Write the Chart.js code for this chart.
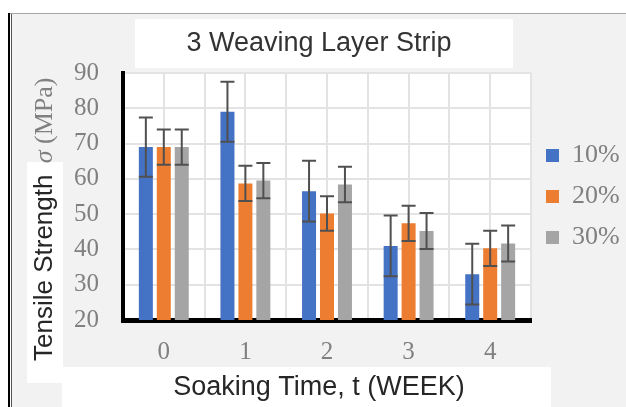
<!DOCTYPE html>
<html>
<head>
<meta charset="utf-8">
<script src="https://cdn.jsdelivr.net/npm/chart.js@4"></script>
<style>
  html, body { margin: 0; padding: 0; background: #fff; }
  #wrap { width: 626px; height: 407px; }
</style>
</head>
<body>
<div id="wrap"><canvas id="chart" width="626" height="407"></canvas></div>
<script>
const weeks = ['0', '1', '2', '3', '4'];
const seriesNames = ['10%', '20%', '30%'];
const tensile10 = [69, 79, 56.5, 41, 33];
const tensile20 = [69, 58.7, 50.2, 47.4, 40.3];
const tensile30 = [69, 59.5, 58.4, 45.2, 41.7];
const err10 = [8.4, 8.5, 8.6, 8.6, 8.6];
const err20 = [5, 5, 4.9, 5, 5];
const err30 = [5, 5, 5, 5.1, 5.1];
const yMin = 20, yMax = 90, yStep = 10;

const colors = ['#4472C4', '#ED7D31', '#A5A5A5'];
const SANS = '"Liberation Sans", Arial, sans-serif';
const SERIF = '"Liberation Serif", "Times New Roman", serif';

// frame, white label boxes, axis titles
const decor = {
  id: 'decor',
  beforeDraw(chart) {
    const ctx = chart.ctx, a = chart.chartArea;
    ctx.save();
    ctx.fillStyle = '#fff';
    ctx.fillRect(0, 0, chart.width, chart.height);
    ctx.fillStyle = '#f2f2f2';
    ctx.fillRect(12, 14, chart.width - 12, chart.height - 14);
    // outer frame
    ctx.strokeStyle = '#a6a6a6';
    ctx.lineWidth = 1;
    ctx.beginPath(); ctx.moveTo(8, 13.5); ctx.lineTo(chart.width, 13.5); ctx.stroke();
    ctx.strokeStyle = '#000';
    ctx.lineWidth = 2;
    ctx.beginPath(); ctx.moveTo(9, 13); ctx.lineTo(9, chart.height); ctx.stroke();
    ctx.strokeStyle = '#555';
    ctx.lineWidth = 1;
    ctx.beginPath(); ctx.moveTo(11.5, 14); ctx.lineTo(11.5, chart.height); ctx.stroke();
    // white boxes
    ctx.fillStyle = '#fff';
    ctx.fillRect(135, 19, 378, 49);
    ctx.fillRect(27, 162, 36, 221);
    ctx.fillRect(62, 367, 489, 40);
    ctx.fillRect(a.left, a.top, a.right - a.left, a.bottom - a.top);
    ctx.restore();
  },
  afterDraw(chart) {
    const ctx = chart.ctx;
    ctx.save();
    // x title
    ctx.font = '27px ' + SANS;
    ctx.fillStyle = '#262626';
    ctx.textAlign = 'center';
    ctx.textBaseline = 'alphabetic';
    ctx.fillText('Soaking Time, t (WEEK)', 319, 395);
    // y title
    ctx.translate(52, 361);
    ctx.rotate(-Math.PI / 2);
    ctx.textAlign = 'left';
    ctx.font = '26px ' + SANS;
    ctx.fillText('Tensile Strength', 0, 0);
    let x = ctx.measureText('Tensile Strength ').width + 4;
    ctx.fillStyle = '#808080';
    ctx.font = 'italic 26px ' + SERIF;
    ctx.fillText('σ', x, 0);
    x += ctx.measureText('σ').width;
    ctx.font = '26px ' + SERIF;
    ctx.fillText(' (MPa)', x, 0);
    ctx.restore();
  }
};

const errors = [err10, err20, err30];
const errorBars = {
  id: 'errorBars',
  afterDatasetsDraw(chart) {
    const ctx = chart.ctx, ys = chart.scales.y;
    ctx.save();
    ctx.strokeStyle = '#505050';
    ctx.lineWidth = 2;
    chart.data.datasets.forEach((ds, i) => {
      chart.getDatasetMeta(i).data.forEach((bar, j) => {
        const v = ds.data[j], e = errors[i][j];
        const top = ys.getPixelForValue(v + e);
        const bot = ys.getPixelForValue(v - e);
        const hw = bar.width / 2;
        ctx.beginPath();
        ctx.moveTo(bar.x, top); ctx.lineTo(bar.x, bot);
        ctx.moveTo(bar.x - hw, top); ctx.lineTo(bar.x + hw, top);
        ctx.moveTo(bar.x - hw, bot); ctx.lineTo(bar.x + hw, bot);
        ctx.stroke();
      });
    });
    ctx.restore();
  }
};

new Chart(document.getElementById('chart').getContext('2d'), {
  type: 'bar',
  data: {
    labels: weeks,
    datasets: [tensile10, tensile20, tensile30].map((d, i) => ({
      label: seriesNames[i],
      data: d,
      backgroundColor: colors[i],
      borderWidth: 0,
      categoryPercentage: 0.66,
      barPercentage: 0.78
    }))
  },
  options: {
    responsive: false,
    animation: false,
    layout: { padding: { left: 12, right: 0, top: 0, bottom: 0 } },
    plugins: {
      title: {
        display: true,
        text: '3 Weaving Layer Strip',
        color: '#333',
        font: { family: SANS, size: 27, weight: 'normal', lineHeight: 1.2 },
        padding: { top: 27.3, bottom: 13.3 }
      },
      legend: {
        position: 'right',
        fullSize: false,
        maxWidth: 95,
        labels: {
          color: '#808080',
          font: { family: SERIF, size: 26 },
          boxWidth: 13,
          boxHeight: 13,
          padding: 15
        }
      },
      tooltip: { enabled: false }
    },
    scales: {
      x: {
        grid: { color: '#e3e3e3', lineWidth: 2, drawTicks: false },
        border: { color: '#000', width: 5 },
        ticks: { color: '#808080', font: { family: SERIF, size: 25 }, padding: 17 },
        afterFit: s => { s.height = 87; }
      },
      x2: {
        type: 'category',
        position: 'bottom',
        offset: true,
        grid: { offset: false, color: '#e3e3e3', lineWidth: 2, drawTicks: false },
        border: { display: false },
        ticks: { display: false },
        afterFit: s => { s.height = 0; }
      },
      y: {
        min: yMin,
        max: yMax,
        ticks: { stepSize: yStep, color: '#808080', font: { family: SERIF, size: 25 }, padding: 24 },
        grid: { color: '#e3e3e3', lineWidth: 2, drawTicks: false },
        border: { color: '#000', width: 4 },
        afterFit: s => { s.width = 111; }
      }
    }
  },
  plugins: [decor, errorBars]
});
</script>
</body>
</html>
